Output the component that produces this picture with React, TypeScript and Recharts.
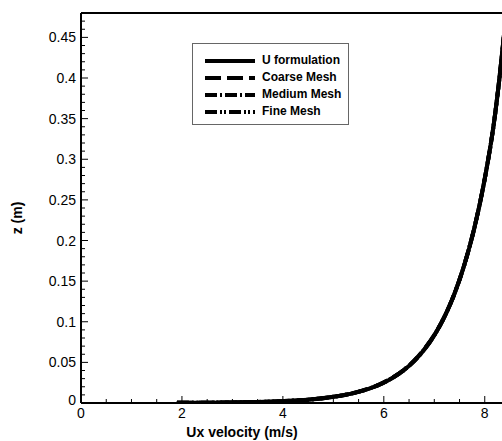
import React from 'react';
import { LineChart, Line, XAxis, YAxis, Legend, ReferenceLine } from 'recharts';

// Ux velocity (m/s) sample points
const uxValues = [1.9, 2.5, 3.0, 3.5, 4.0, 4.5, 5.0, 5.2, 5.4, 5.6, 5.8, 6.0, 6.2, 6.4, 6.6, 6.8, 7.0, 7.2, 7.4, 7.6, 7.8, 8.0, 8.2, 8.3, 8.4, 8.5];
// z (m) for each series
const uFormulationZ = [0.0002, 0.0004, 0.0007, 0.0013, 0.0023, 0.0041, 0.0076, 0.0096, 0.0122, 0.0155, 0.0197, 0.0251, 0.0319, 0.0405, 0.0515, 0.0655, 0.0832, 0.1058, 0.1345, 0.171, 0.217, 0.276, 0.353, 0.405, 0.465, 0.535];
const coarseMeshZ = [0.0002, 0.0004, 0.0007, 0.0013, 0.0023, 0.0041, 0.0077, 0.0097, 0.0123, 0.0157, 0.0199, 0.0254, 0.0323, 0.041, 0.0522, 0.0664, 0.0838, 0.1062, 0.1348, 0.1712, 0.2172, 0.2762, 0.3532, 0.4052, 0.4652, 0.5352];
const mediumMeshZ = [0.0002, 0.0004, 0.0007, 0.0013, 0.0023, 0.0041, 0.0076, 0.0096, 0.0122, 0.0156, 0.0198, 0.0252, 0.0321, 0.0407, 0.0518, 0.0659, 0.0835, 0.106, 0.1346, 0.1711, 0.2171, 0.2761, 0.3531, 0.4051, 0.4651, 0.5351];
const fineMeshZ = [0.0002, 0.0004, 0.0007, 0.0013, 0.0023, 0.0041, 0.0076, 0.0096, 0.0122, 0.0155, 0.0197, 0.0251, 0.032, 0.0406, 0.0516, 0.0657, 0.0833, 0.1059, 0.1345, 0.171, 0.217, 0.276, 0.353, 0.405, 0.465, 0.535];

const seriesNames = ['U formulation', 'Coarse Mesh', 'Medium Mesh', 'Fine Mesh'];
const seriesDash = ['', '16 6', '12 3 2 3', '12 3 2 2 2 3'];

// ticks
const xMajorTicks = [0, 2, 4, 6, 8];
const xTickLabels = ['0', '2', '4', '6', '8'];
const xMinorTicks = [0.5, 1, 1.5, 2.5, 3, 3.5, 4.5, 5, 5.5, 6.5, 7, 7.5, 8.5];
const yMajorTicks = [0, 0.05, 0.1, 0.15, 0.2, 0.25, 0.3, 0.35, 0.4, 0.45];
const yTickLabels = ['0', '0.05', '0.1', '0.15', '0.2', '0.25', '0.3', '0.35', '0.4', '0.45'];
const yMinorTicks: number[] = [];
for (let i = 1; i <= 48; i++) {
  if (i % 5 !== 0) yMinorTicks.push(i / 100);
}

const xAllTicks = [...xMajorTicks, ...xMinorTicks].sort((a, b) => a - b);
const yAllTicks = [...yMajorTicks, ...yMinorTicks].sort((a, b) => a - b);

const build = (zs: number[]) => uxValues.map((x, i) => ({ x, z: zs[i] }));
const seriesData = [build(uFormulationZ), build(coarseMeshZ), build(mediumMeshZ), build(fineMeshZ)];

const FONT = '"Liberation Sans", Arial, Helvetica, sans-serif';

const XTick = (props: any) => {
  const { x, y, payload } = props;
  const i = xMajorTicks.indexOf(payload.value);
  const major = i >= 0;
  return (
    <g>
      <line x1={x} x2={x} y1={y} y2={y - (major ? 7 : 4)} stroke="#000" strokeWidth={1} />
      {major && (
        <text x={x} y={y + 15} textAnchor="middle" fontSize={14} fontFamily={FONT} fill="#000">
          {xTickLabels[i]}
        </text>
      )}
    </g>
  );
};

const YTick = (props: any) => {
  const { x, y, payload } = props;
  const i = yMajorTicks.indexOf(payload.value);
  const major = i >= 0;
  return (
    <g>
      <line x1={x} x2={x + (major ? 7 : 4)} y1={y} y2={y} stroke="#000" strokeWidth={1} />
      {major && (
        <text x={x - 5} y={i === 0 ? y + 2 : y + 5} textAnchor="end" fontSize={14} fontFamily={FONT} fill="#000">
          {yTickLabels[i]}
        </text>
      )}
    </g>
  );
};

const LegendBox = (props: any) => {
  const payload = [...(props.payload || [])].sort(
    (a: any, b: any) => seriesNames.indexOf(a.value) - seriesNames.indexOf(b.value)
  );
  return (
    <div
      style={{
        border: '1px solid #666',
        background: '#fff',
        width: 157,
        height: 82,
        boxSizing: 'border-box',
        paddingTop: 8,
        paddingLeft: 12,
        fontFamily: FONT,
      }}
    >
      {payload.map((entry: any, idx: number) => {
        const k = seriesNames.indexOf(entry.value);
        return (
          <div key={idx} style={{ display: 'flex', alignItems: 'center', height: 17, whiteSpace: 'nowrap' }}>
            <svg width={50} height={6} style={{ display: 'block', flex: 'none' }}>
              <line x1={0} x2={50} y1={3} y2={3} stroke="#000" strokeWidth={4} strokeDasharray={seriesDash[k] || undefined} />
            </svg>
            <span style={{ marginLeft: 7, fontSize: 12, fontWeight: 'bold', color: '#000', lineHeight: '17px' }}>
              {entry.value}
            </span>
          </div>
        );
      })}
    </div>
  );
};

const XTitle = () => (
  <text x={242} y={437} textAnchor="middle" fontFamily={FONT} fontWeight="bold" fontSize={14} fill="#000">
    Ux velocity (m/s)
  </text>
);

const YTitle = () => (
  <text
    x={17}
    y={218}
    transform="rotate(-90, 17, 218)"
    textAnchor="middle"
    dominantBaseline="central"
    fontFamily={FONT}
    fontWeight="bold"
    fontSize={14}
    fill="#000"
  >
    z (m)
  </text>
);

export default function App() {
  return (
    <div style={{ position: 'absolute', left: 0, top: 0, width: 502, height: 441, overflow: 'hidden', background: '#fff' }}>
      <LineChart width={520} height={441} margin={{ top: 13, right: 10, bottom: 0, left: 0 }}>
        <XAxis
          type="number"
          dataKey="x"
          domain={[0, 8.5]}
          ticks={xAllTicks}
          allowDataOverflow
          height={38}
          tickLine={false}
          tickSize={0}
          tickMargin={0}
          tick={<XTick />}
          interval={0}
          axisLine={{ stroke: '#000', strokeWidth: 2 }}
          label={{ content: <XTitle /> }}
        />
        <YAxis
          type="number"
          dataKey="z"
          domain={[0, 0.48]}
          ticks={yAllTicks}
          allowDataOverflow
          width={81}
          tickLine={false}
          tickSize={0}
          tickMargin={0}
          tick={<YTick />}
          interval={0}
          axisLine={{ stroke: '#000', strokeWidth: 2 }}
          label={{ content: <YTitle /> }}
        />
        <ReferenceLine y={0.48} stroke="#000" strokeWidth={2} />
        {seriesData.map((d, i) => (
          <Line
            key={seriesNames[i]}
            data={d}
            dataKey="z"
            name={seriesNames[i]}
            type="monotone"
            stroke="#000"
            strokeWidth={4}
            strokeDasharray={seriesDash[i] || undefined}
            dot={false}
            activeDot={false}
            isAnimationActive={false}
          />
        ))}
        <Legend
          layout="vertical"
          align="center"
          verticalAlign="middle"
          content={<LegendBox />}
          wrapperStyle={{ left: 192, top: 43, width: 157, height: 82 }}
        />
      </LineChart>
    </div>
  );
}
